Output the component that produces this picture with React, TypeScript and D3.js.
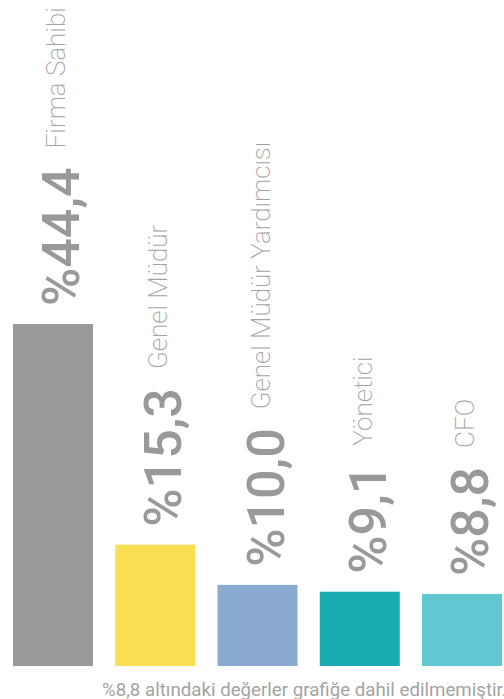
import * as d3 from "d3";
import React, { useRef, useEffect } from "react";

const categories = ["Firma Sahibi", "Genel Müdür", "Genel Müdür Yardımcısı", "Yönetici", "CFO"];
const values = [44.4, 15.3, 10.0, 9.1, 8.8];
const valueLabels = ["%44,4", "%15,3", "%10,0", "%9,1", "%8,8"];
const colors = ["#9a9a9c", "#f8df53", "#8aaad0", "#1aabb0", "#61c7d1"];
const footnote = "%8,8 altındaki değerler grafiğe dahil edilmemiştir.";

const width = 504;
const height = 699;

const App = () => {
  const svgRef = useRef(null);

  useEffect(() => {
    draw();
  }, []);

  const draw = () => {
    if (svgRef.current === null) {
      return;
    }
    const svg = d3.select(svgRef.current);
    svg.selectAll("*").remove();

    const bottom = 666;
    const xScale = d3
      .scaleBand()
      .domain(categories)
      .range([13, 502])
      .paddingInner(0.2176)
      .paddingOuter(0);
    const yScale = d3.scaleLinear().domain([-0.7, 44.4]).range([bottom, 324]);

    const data = categories.map((c, i) => ({
      name: c,
      value: values[i],
      label: valueLabels[i],
      color: colors[i],
    }));

    // bars
    svg
      .selectAll(".bar")
      .data(data)
      .enter()
      .append("rect")
      .attr("class", "bar")
      .attr("x", (d) => xScale(d.name)!)
      .attr("y", (d) => yScale(d.value))
      .attr("width", xScale.bandwidth())
      .attr("height", (d) => bottom - yScale(d.value))
      .attr("fill", (d) => d.color);

    // rotated labels: value then category name
    const labels = svg
      .selectAll(".label")
      .data(data)
      .enter()
      .append("text")
      .attr("class", "label")
      .attr(
        "transform",
        (d) =>
          `translate(${xScale(d.name)! + xScale.bandwidth() - 14},${yScale(d.value) - 18}) rotate(-90)`
      )
      .style("font-family", "Roboto, 'Noto Sans', sans-serif");

    labels
      .append("tspan")
      .attr("font-size", 52)
      .attr("font-weight", 500)
      .attr("fill", "#999999")
      .text((d) => d.label);

    labels
      .append("tspan")
      .attr("dx", 19)
      .attr("dy", -14)
      .attr("font-size", 26)
      .attr("font-weight", 200)
      .attr("fill", "#a3a3a3")
      .text((d) => d.name);

    // footnote
    svg
      .append("text")
      .attr("x", 102)
      .attr("y", 696)
      .attr("font-size", 18.7)
      .attr("fill", "#a3a3a3")
      .style("font-family", "Roboto, 'Noto Sans', sans-serif")
      .text(footnote);
  };

  return (
    <div style={{ position: "absolute", left: 0, top: 0 }}>
      <svg width={width} height={height} ref={svgRef}></svg>
    </div>
  );
};

export default App;
